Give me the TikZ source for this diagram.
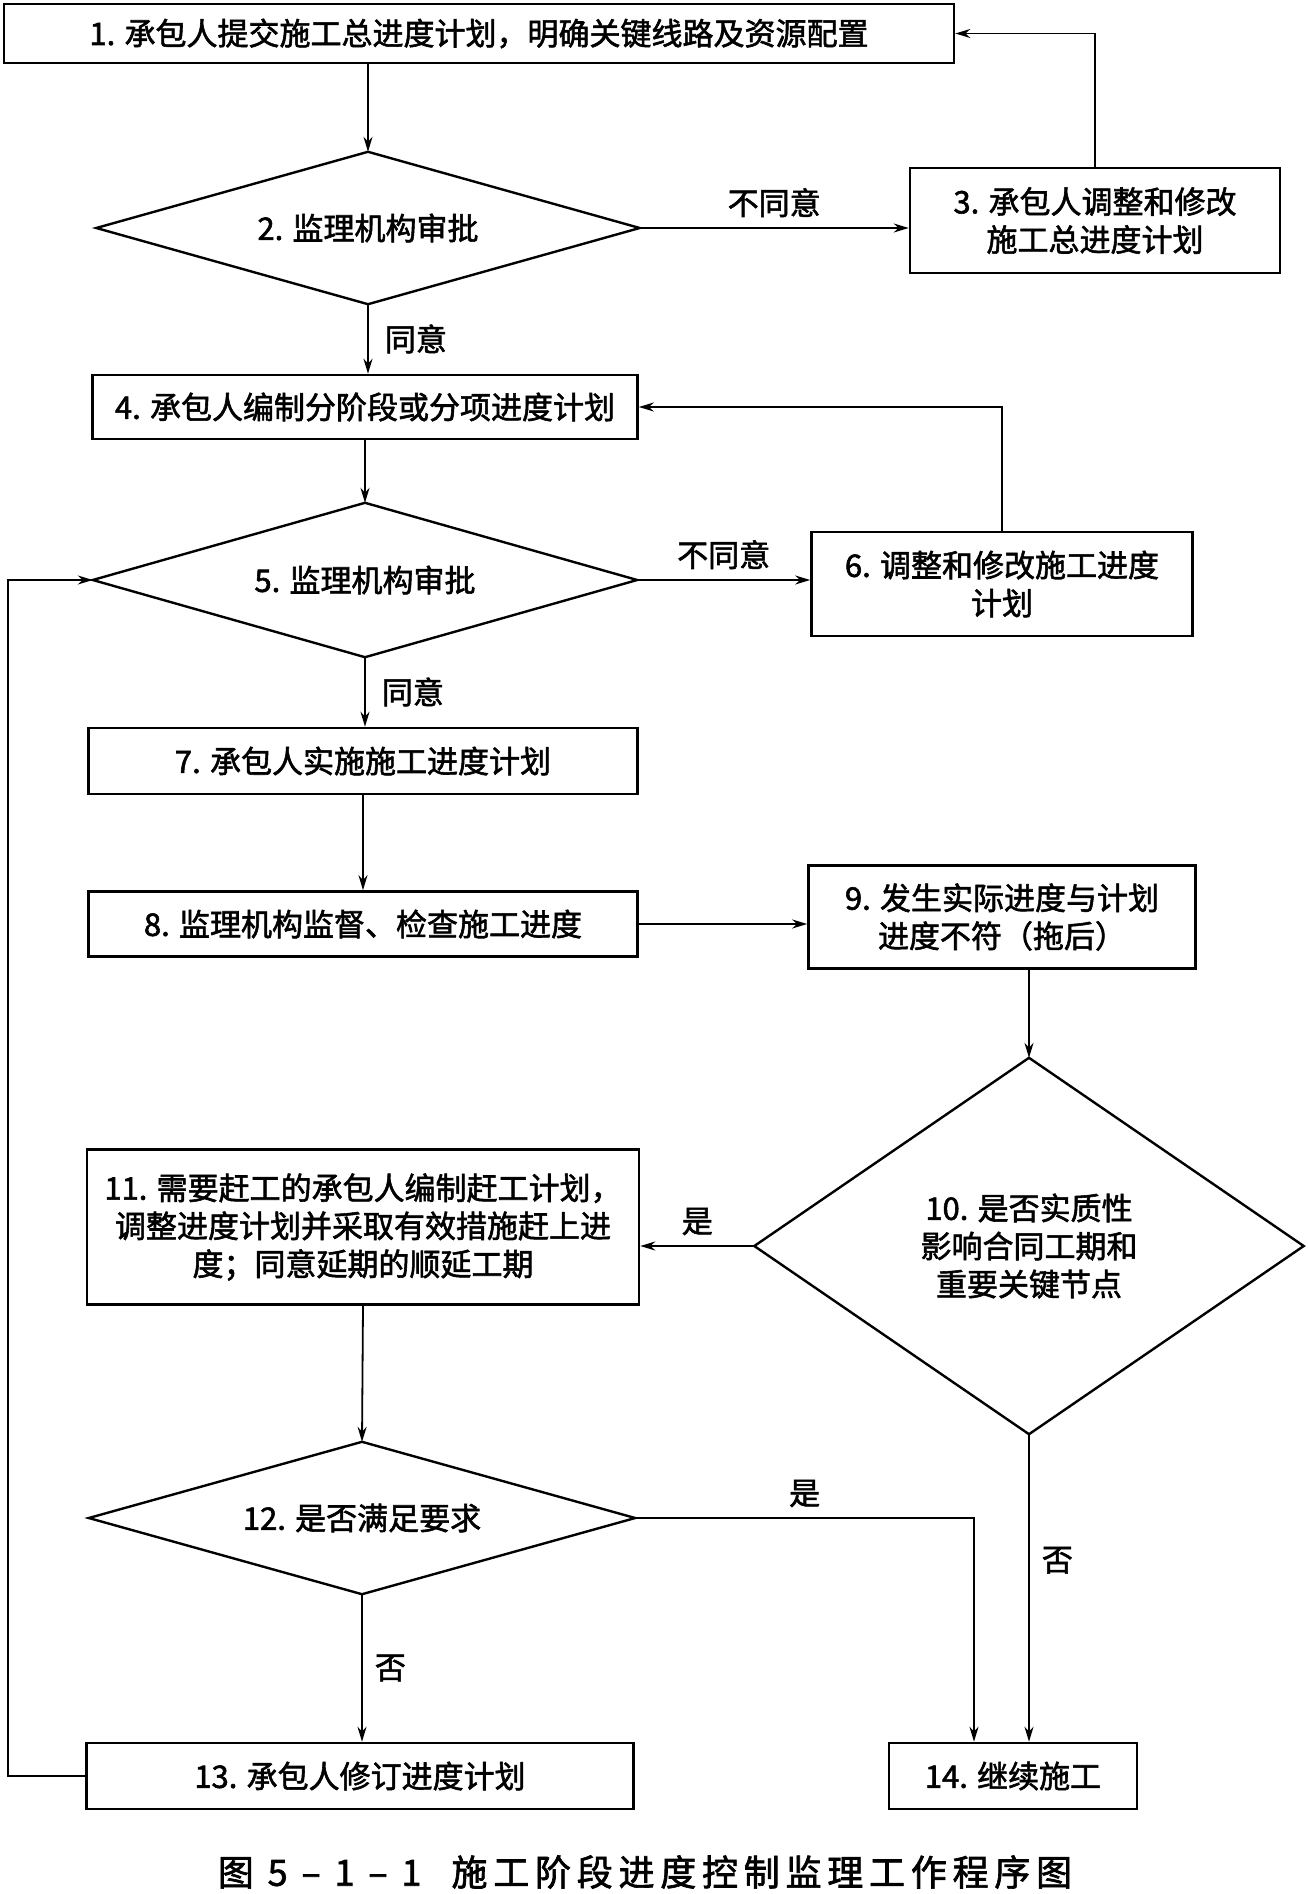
\documentclass[tikz,border=0pt]{standalone}
\usepackage{fontspec}
\setmainfont{Noto Sans CJK SC}[FakeBold=1.8]
\newfontfamily\capfnt{Noto Sans CJK SC}[FakeBold=1.8,LetterSpace=16]
\usetikzlibrary{arrows.meta,calc}
\newcommand\boxfnt{\fontsize{31pt}{38pt}\selectfont}
\begin{document}
\begin{tikzpicture}[x=1pt,y=-1pt,
  box/.style={draw,line width=2.6pt,align=center,inner sep=0pt,font=\boxfnt},
  dia/.style={rectangle,align=center,inner sep=0pt,font=\boxfnt},
  diaedge/.style={line width=2.4pt,line join=miter},
  conn/.style={line width=1.8pt,-{Stealth[length=15pt,width=9pt]}},
  lbl/.style={font=\boxfnt,inner sep=2pt}]
\path[fill=white] (0,0) rectangle (1307,1894);
\useasboundingbox (0,0) rectangle (1307,1894);

\node[box,minimum width=950,minimum height=59] (b1) at (479,33.5) {1. 承包人提交施工总进度计划，明确关键线路及资源配置};
\node[dia,minimum width=543,minimum height=152] (d2) at (368,228) {2. 监理机构审批};
\node[box,minimum width=370,minimum height=105] (b3) at (1095,220.5) {3. 承包人调整和修改\\施工总进度计划};
\node[box,minimum width=545,minimum height=64] (b4) at (365,407) {4. 承包人编制分阶段或分项进度计划};
\node[dia,minimum width=544,minimum height=154] (d5) at (365,580) {5. 监理机构审批};
\node[box,minimum width=381,minimum height=104] (b6) at (1002,584) {6. 调整和修改施工进度\\计划};
\node[box,minimum width=549,minimum height=66] (b7) at (363,761) {7. 承包人实施施工进度计划};
\node[box,minimum width=549,minimum height=65] (b8) at (363,924) {8. 监理机构监督、检查施工进度};
\node[box,minimum width=387,minimum height=103] (b9) at (1002,917) {9. 发生实际进度与计划\\进度不符（拖后）};
\node[dia,minimum width=549,minimum height=376] (d10) at (1029,1246) {10. 是否实质性\\影响合同工期和\\重要关键节点};
\node[box,minimum width=552,minimum height=155] (b11) at (363,1227) {11. 需要赶工的承包人编制赶工计划，\\调整进度计划并采取有效措施赶上进\\度；同意延期的顺延工期};
\node[dia,minimum width=546,minimum height=152] (d12) at (362,1518) {12. 是否满足要求};
\node[box,minimum width=547,minimum height=66] (b13) at (360,1776) {13. 承包人修订进度计划};
\node[box,minimum width=248,minimum height=66] (b14) at (1013,1776) {14. 继续施工};
\node[inner sep=0pt] (cap) at (645,1872) {\capfnt\fontsize{36pt}{40pt}\selectfont 图 5 – 1 – 1\hspace{30pt}施工阶段进度控制监理工作程序图};

\foreach \d in {d2,d5,d10,d12}
  \draw[diaedge] (\d.north) -- (\d.east) -- (\d.south) -- (\d.west) -- cycle;

\coordinate (lp) at (8,1776);

\draw[conn] (d2.north |- b1.south) -- (d2.north);
\draw[conn] (d2.east) -- (d2.east -| b3.west) node[lbl,midway,above=8pt] {不同意};
\draw[conn] (b3.north) |- (b1.east);
\draw[conn] (d2.south) -- (d2.south |- b4.north) node[lbl,midway,right=14pt] {同意};
\draw[conn] (b4.south) -- (d5.north);
\draw[conn] (d5.east) -- (d5.east -| b6.west) node[lbl,midway,above=8pt] {不同意};
\draw[conn] (b6.north) |- (b4.east);
\draw[conn] (d5.south) -- (d5.south |- b7.north) node[lbl,midway,right=14pt] {同意};
\draw[conn] (b7.south) -- (b8.north);
\draw[conn] (b8.east) -- (b8.east -| b9.west);
\draw[conn] (d10.north |- b9.south) -- (d10.north);
\draw[conn] (d10.west) -- (d10.west -| b11.east) node[lbl,midway,above=8pt] {是};
\draw[conn] (b11.south) -- (d12.north);
\draw[conn] (d12.east) -| ([xshift=-39pt]b14.north) node[lbl,pos=0.25,above=8pt] {是};
\draw[conn] (d10.south) -- (d10.south |- b14.north) node[lbl,pos=0.41,right=10pt] {否};
\draw[conn] (d12.south) -- (d12.south |- b13.north) node[lbl,midway,right=10pt] {否};
\draw[conn] (b13.west) -- (lp) |- (d5.west);
\end{tikzpicture}
\end{document}
